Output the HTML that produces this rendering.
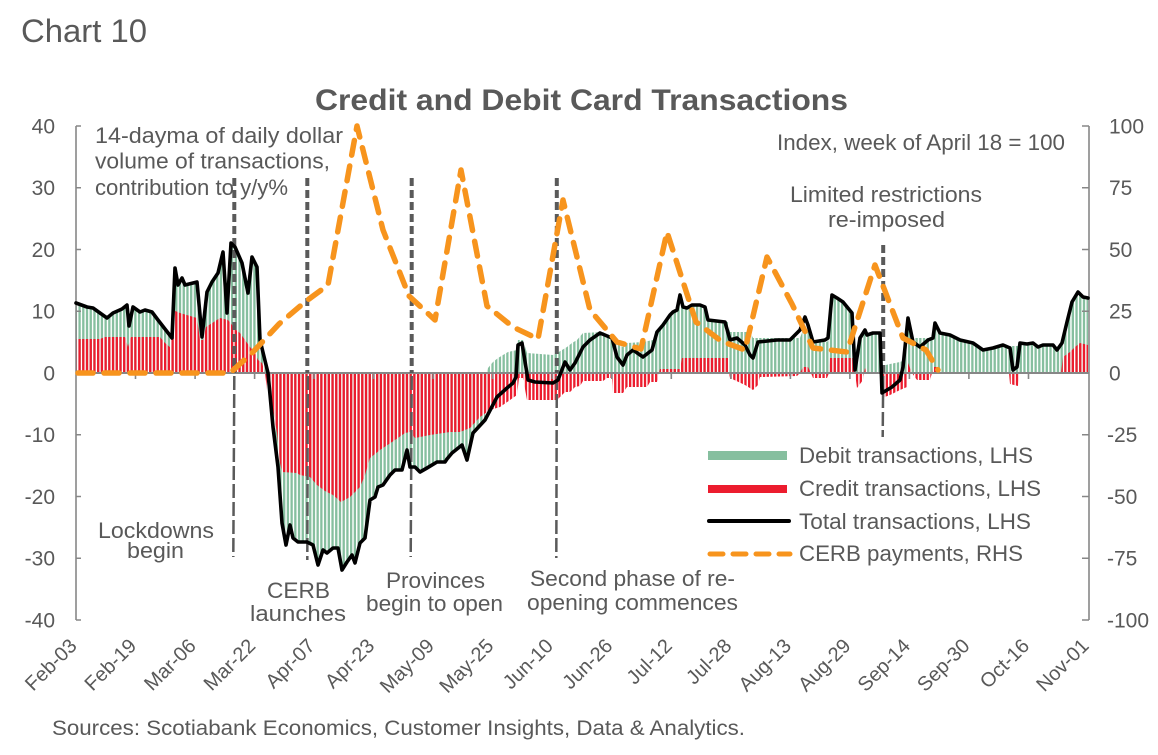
<!DOCTYPE html>
<html><head><meta charset="utf-8"><style>
html,body{margin:0;padding:0;background:#fff;}
svg{display:block;}
text{font-family:"Liberation Sans",Arial,sans-serif;fill:#595959;}
</style></head><body>
<svg width="1158" height="755" viewBox="0 0 1158 755" xmlns="http://www.w3.org/2000/svg">
<defs>
<pattern id="pg" patternUnits="userSpaceOnUse" x="74.7" y="0" width="3.72" height="20"><rect x="0" y="0" width="2.4" height="20" fill="#86bf9f" shape-rendering="crispEdges"/></pattern>
<pattern id="pr" patternUnits="userSpaceOnUse" x="74.7" y="0" width="3.72" height="20"><rect x="0" y="0" width="2.4" height="20" fill="#ec1c2e" shape-rendering="crispEdges"/></pattern>
</defs>
<rect width="1158" height="755" fill="#fff"/>

<text x="21" y="42" font-size="32" textLength="126" lengthAdjust="spacingAndGlyphs">Chart 10</text>
<text x="315" y="110" font-size="30" font-weight="bold" textLength="533" lengthAdjust="spacingAndGlyphs">Credit and Debit Card Transactions</text>

<!-- green bars -->
<polygon fill="url(#pg)" points="76,373 76,303 87,307 93,308 100,313 107,318 113,313 122,309 127,305 129,326 133,307 140,312 145,310 152,312 158,320 172,338 175,268 178,285 182,278 185,285 197,282 202,337 207,292 212,282 218,273 223,252 227,313 231,243 235,247 242,263 248,293 252,257 257,267 260,340 268,373 273,427 278,467 282,523 286,545 290,525 293,538 298,542 307,542 313,545 318,565 323,550 327,553 333,548 338,548 342,570 347,562 352,555 355,563 360,543 365,538 370,500 375,497 378,487 383,485 390,475 395,470 402,470 407,450 410,467 415,467 420,472 427,468 437,462 445,462 447,459 452,453 462,445 467,460 473,433 485,420 487,373 488,368 493,362 498,358 503,355 508,352 517,350 518,340 523,340 527,353 553,355 557,353 562,350 567,347 572,343 577,340 583,333 603,332 607,335 612,335 613,343 623,347 627,343 643,342 653,340 657,332 663,325 670,315 673,312 677,310 680,295 683,307 687,308 692,305 700,305 705,307 708,320 725,322 729,322 730,332 750,332 753,338 800,338 803,330 810,330 813,342 827,342 830,338 832,295 837,298 843,302 852,313 855,345 858,355 860,338 865,330 867,335 873,333 880,333 882,366 890,364 900,362 905,360 907,340 908,318 913,338 933,338 935,323 940,333 950,335 960,340 973,343 983,350 993,348 1003,345 1009,346 1018,346 1020,343 1027,344 1033,343 1038,347 1043,345 1053,345 1057,350 1062,343 1067,322 1072,302 1078,292 1083,297 1088,298 1088,373"/>
<!-- red bars -->
<polygon fill="url(#pr)" points="76,373 76,339 100,339 105,337 125,337 128,347 131,337 160,337 165,343 171,348 173,310 180,313 197,318 200,340 203,340 206,327 220,318 228,320 236,330 240,333 245,340 250,347 255,353 258,360 262,363 265,373 267,390 270,393 277,433 280,463 282,472 297,473 300,475 310,477 317,485 325,491 333,495 341,502 350,497 360,487 365,475 370,458 380,450 395,440 405,433 410,432 415,438 430,435 450,432 460,432 470,428 480,417 490,410 500,407 510,400 517,395 519,378 523,378 527,400 557,400 560,397 565,392 570,392 575,387 580,386 583,381 603,381 607,378 612,378 613,393 623,393 627,387 647,387 650,382 657,382 659,373 660,369 680,369 682,358 707,358 728,358 729,373 730,378 745,385 753,390 758,385 760,377 797,376 800,373 803,367 808,367 811,373 813,378 827,378 829,373 830,358 853,358 855,373 857,388 863,380 864,373 865,368 867,373 881,373 882,398 890,395 900,390 907,387 908,363 912,373 917,380 930,380 932,373 933,367 938,367 940,373 1009,373 1010,384 1018,386 1019,373 1061,373 1063,357 1070,352 1075,347 1080,343 1088,345 1088,373"/>

<!-- axes -->
<g stroke="#878787" stroke-width="1.6" fill="none">
<line x1="76" y1="126" x2="76" y2="620"/>
<line x1="1089" y1="126" x2="1089" y2="620"/>
<line x1="76" y1="373" x2="1089" y2="373" stroke-width="2"/>
<path d="M76,126h5M76,187.75h5M76,249.5h5M76,311.25h5M76,434.75h5M76,496.5h5M76,558.25h5M76,620h5"/>
<path d="M1089,126h-7M1089,187.75h-7M1089,249.5h-7M1089,311.25h-7M1089,434.75h-7M1089,496.5h-7M1089,558.25h-7M1089,620h-7"/>
<path d="M135.5,373v6M195.1,373v6M254.6,373v6M314.1,373v6M373.6,373v6M433.2,373v6M492.7,373v6M552.2,373v6M611.8,373v6M671.3,373v6M730.8,373v6M790.4,373v6M849.9,373v6M909.4,373v6M968.9,373v6M1028.5,373v6"/>
</g>

<!-- event lines -->
<g stroke="#5a5a5a" fill="none">
<g stroke-width="4" stroke-dasharray="8 4">
<line x1="234.3" y1="178" x2="234.3" y2="373"/>
<line x1="307.3" y1="178" x2="307.3" y2="373"/>
<line x1="411.7" y1="178" x2="411.7" y2="373"/>
<line x1="556.8" y1="178" x2="556.8" y2="373"/>
<line x1="883.2" y1="245" x2="883.2" y2="373"/>
</g>
<g stroke-width="2.5" stroke-dasharray="14 4">
<line x1="234.3" y1="376" x2="233.3" y2="557"/>
<line x1="307.8" y1="376" x2="307.3" y2="560"/>
<line x1="411.7" y1="376" x2="410.7" y2="557"/>
<line x1="556.8" y1="376" x2="556.3" y2="558"/>
<line x1="883.2" y1="376" x2="882.7" y2="437"/>
</g>
</g>

<!-- total line -->
<polyline fill="none" stroke="#000" stroke-width="3.6" stroke-linejoin="round" stroke-linecap="round" points="76,303 87,307 93,308 100,313 107,318 113,313 122,309 127,305 129,326 133,307 140,312 145,310 152,312 158,320 172,338 175,268 178,285 182,278 185,285 197,282 202,337 207,292 212,282 218,273 223,252 227,313 231,243 235,247 242,263 248,293 252,257 257,267 260,340 268,373 273,427 278,467 282,523 286,545 290,525 293,538 298,542 307,542 313,545 318,565 323,550 327,553 333,548 338,548 342,570 347,562 352,555 355,563 360,543 365,538 370,500 375,497 378,487 383,485 390,475 395,470 402,470 407,450 410,467 415,467 420,472 427,468 437,462 445,462 447,459 452,453 462,445 467,460 473,433 485,420 497,397 507,388 513,383 516,377 518,345 522,343 528,380 535,382 553,383 558,380 565,362 570,370 575,363 583,347 590,340 600,333 612,338 617,357 623,365 627,355 633,350 643,357 652,350 657,332 663,325 670,315 673,312 677,310 680,295 683,307 687,308 692,305 700,305 705,307 708,320 725,322 730,340 737,338 745,345 750,355 753,358 758,342 777,340 790,340 800,330 805,317 808,325 813,342 825,340 828,338 832,295 837,298 843,302 852,313 855,370 860,338 865,330 867,335 873,333 880,333 882,393 887,390 892,387 900,380 903,367 908,318 913,342 920,347 928,340 933,338 935,323 940,333 950,335 960,340 973,343 983,350 993,348 1003,345 1010,348 1013,370 1017,367 1020,343 1027,344 1033,343 1038,347 1043,345 1053,345 1057,350 1062,343 1067,322 1072,302 1078,292 1083,297 1088,298"/>

<!-- CERB line -->
<polyline fill="none" stroke="#f7941d" stroke-width="5.5" stroke-linejoin="round" stroke-linecap="round" stroke-dasharray="15 11" points="78,373 230,373 253,352 279,324 305,302 328,285 357,126 383,230 409,296 435,320 461,170 487,306 513,327 538,339 563,200 590,310 617,342 641,349 667,232 696,322 721,341 745,350 767,257 792,304 813,348 847,352 875,265 903,338 926,350 938,370"/>

<!-- axis labels left -->
<g font-size="21" text-anchor="end">
<text x="55" y="133.5">40</text>
<text x="55" y="195.2">30</text>
<text x="55" y="257">20</text>
<text x="55" y="318.7">10</text>
<text x="55" y="380.5">0</text>
<text x="55" y="442.2">-10</text>
<text x="55" y="504">-20</text>
<text x="55" y="565.7">-30</text>
<text x="55" y="627.5">-40</text>
</g>
<g font-size="21">
<text x="1109" y="133.5">100</text>
<text x="1109" y="195.2">75</text>
<text x="1109" y="257">50</text>
<text x="1109" y="318.7">25</text>
<text x="1109" y="380.5">0</text>
<text x="1107" y="442.2">-25</text>
<text x="1107" y="504">-50</text>
<text x="1107" y="565.7">-75</text>
<text x="1107" y="627.5">-100</text>
</g>

<!-- date labels -->
<g font-size="20" text-anchor="end">
<text transform="translate(78,647) rotate(-45)">Feb-03</text>
<text transform="translate(137.5,647) rotate(-45)">Feb-19</text>
<text transform="translate(197.1,647) rotate(-45)">Mar-06</text>
<text transform="translate(256.6,647) rotate(-45)">Mar-22</text>
<text transform="translate(316.1,647) rotate(-45)">Apr-07</text>
<text transform="translate(375.6,647) rotate(-45)">Apr-23</text>
<text transform="translate(435.2,647) rotate(-45)">May-09</text>
<text transform="translate(494.7,647) rotate(-45)">May-25</text>
<text transform="translate(554.2,647) rotate(-45)">Jun-10</text>
<text transform="translate(613.8,647) rotate(-45)">Jun-26</text>
<text transform="translate(673.3,647) rotate(-45)">Jul-12</text>
<text transform="translate(732.8,647) rotate(-45)">Jul-28</text>
<text transform="translate(792.4,647) rotate(-45)">Aug-13</text>
<text transform="translate(851.9,647) rotate(-45)">Aug-29</text>
<text transform="translate(911.4,647) rotate(-45)">Sep-14</text>
<text transform="translate(970.9,647) rotate(-45)">Sep-30</text>
<text transform="translate(1030.5,647) rotate(-45)">Oct-16</text>
<text transform="translate(1090,647) rotate(-45)">Nov-01</text>
</g>

<!-- annotations -->
<g font-size="22">
<text x="95" y="143" textLength="248" lengthAdjust="spacingAndGlyphs">14-dayma of daily dollar</text>
<text x="95" y="168.5" textLength="235" lengthAdjust="spacingAndGlyphs">volume of transactions,</text>
<text x="95" y="195" textLength="193" lengthAdjust="spacingAndGlyphs">contribution to y/y%</text>
<text x="777" y="150" textLength="288" lengthAdjust="spacingAndGlyphs">Index, week of April 18 = 100</text>
<text x="790" y="202" textLength="192" lengthAdjust="spacingAndGlyphs">Limited restrictions</text>
<text x="828" y="227" textLength="117" lengthAdjust="spacingAndGlyphs">re-imposed</text>
<text x="98" y="538" textLength="116" lengthAdjust="spacingAndGlyphs">Lockdowns</text>
<text x="127" y="558" textLength="57" lengthAdjust="spacingAndGlyphs">begin</text>
<text x="267" y="598" textLength="63" lengthAdjust="spacingAndGlyphs">CERB</text>
<text x="250" y="621" textLength="96" lengthAdjust="spacingAndGlyphs">launches</text>
<text x="386" y="588" textLength="99" lengthAdjust="spacingAndGlyphs">Provinces</text>
<text x="366" y="611" textLength="137" lengthAdjust="spacingAndGlyphs">begin to open</text>
<text x="530" y="586" textLength="205" lengthAdjust="spacingAndGlyphs">Second phase of re-</text>
<text x="527" y="610" textLength="211" lengthAdjust="spacingAndGlyphs">opening commences</text>
</g>

<!-- legend -->
<rect x="708" y="451" width="79" height="9" fill="#86bf9f"/>
<rect x="708" y="485" width="79" height="8" fill="#ec1c2e"/>
<line x1="709" y1="521" x2="789" y2="521" stroke="#000" stroke-width="4" stroke-linecap="round"/>
<line x1="710" y1="554" x2="790" y2="554" stroke="#f7941d" stroke-width="5" stroke-linecap="round" stroke-dasharray="13 10"/>
<g font-size="22">
<text x="799" y="463" textLength="234" lengthAdjust="spacingAndGlyphs">Debit transactions, LHS</text>
<text x="799" y="496" textLength="242" lengthAdjust="spacingAndGlyphs">Credit transactions, LHS</text>
<text x="799" y="529" textLength="232" lengthAdjust="spacingAndGlyphs">Total transactions, LHS</text>
<text x="799" y="561" textLength="224" lengthAdjust="spacingAndGlyphs">CERB payments, RHS</text>
</g>

<text x="52" y="735" font-size="21" textLength="693" lengthAdjust="spacingAndGlyphs">Sources: Scotiabank Economics, Customer Insights, Data &amp; Analytics.</text>
</svg>
</body></html>
